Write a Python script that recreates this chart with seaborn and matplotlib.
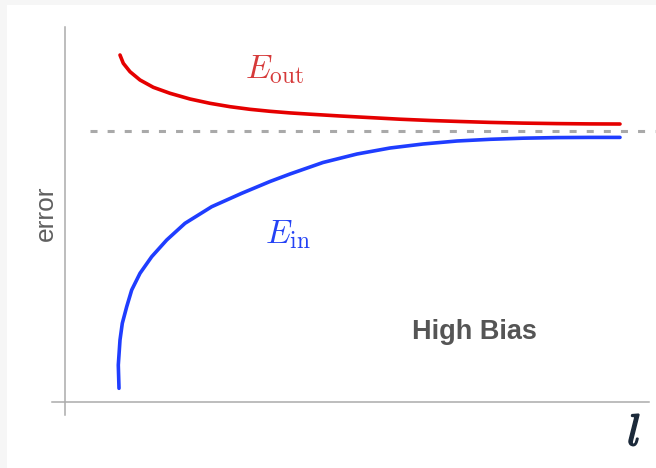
import numpy as np
import pandas as pd
import matplotlib
matplotlib.use("Agg")
import matplotlib.pyplot as plt
from matplotlib.patches import Rectangle
import matplotlib.patheffects as pe
import seaborn as sns

# ---- data ----
size_in = [1.080, 1.066, 1.066, 1.100, 1.146, 1.234, 1.334, 1.500, 1.734, 2.034, 2.400,
           2.934, 3.534, 4.100, 4.500, 5.160, 5.840, 6.500, 7.160, 7.840, 8.500,
           9.160, 9.840, 10.500, 11.100]
error_in = [0.365, 0.765, 1.208, 1.653, 2.099, 2.541, 2.987, 3.432, 3.875, 4.320, 4.765,
            5.208, 5.565, 5.880, 6.080, 6.387, 6.613, 6.773, 6.880, 6.960, 7.005,
            7.035, 7.051, 7.056, 7.056]

size_out = [1.100, 1.166, 1.300, 1.500, 1.766, 2.100, 2.500, 2.900, 3.300, 3.700, 4.100,
            4.500, 4.900, 5.500, 6.100, 6.700, 7.300, 7.900, 8.500, 9.160, 9.840,
            10.500, 11.100]
error_out = [9.253, 9.032, 8.808, 8.587, 8.392, 8.232, 8.080, 7.965, 7.875, 7.805, 7.752,
             7.709, 7.675, 7.627, 7.584, 7.541, 7.507, 7.480, 7.456, 7.437, 7.424,
             7.416, 7.413]

bias_x = [0.50, 11.80]
bias_level = [7.227, 7.227]

label_in = r"$E_{\rm in}$"
label_out = r"$E_{\rm out}$"
text_bias = "High Bias"
ylabel = "error"
xlabel = r"$l$"

# ---- style ----
sns.set_style("white")
plt.rcParams["font.family"] = ["Liberation Sans", "DejaVu Sans"]
plt.rcParams["mathtext.fontset"] = "cm"

W, H = 656, 468
fig = plt.figure(figsize=(W / 100, H / 100), dpi=100)
fig.patch.set_facecolor("#f6f6f6")
fig.patches.append(Rectangle((7 / W, 0), 1, 1 - 5 / H, transform=fig.transFigure,
                             facecolor="white", edgecolor="none", zorder=-10))

ax = fig.add_axes([52 / W, 53 / H, 597 / W, 388 / H])
ax.set_facecolor("none")

red = "#e50000"
blue = "#1f3dff"

sns.lineplot(x=size_out, y=error_out, sort=False, color=red, lw=2.6, ax=ax)
sns.lineplot(x=size_in, y=error_in, sort=False, color=blue, lw=2.6, ax=ax)
for ln in ax.lines:
    ln.set_solid_joinstyle("round")
ax.plot(bias_x, bias_level, color="#a9a9a9", lw=2.2, dashes=(2.3, 3.3), clip_on=False)

ax.set_xlim(-0.26, 11.68)
ax.set_ylim(-0.3467, 10.0)

for s in ["top", "right"]:
    ax.spines[s].set_visible(False)
for s in ["left", "bottom"]:
    ax.spines[s].set_position(("data", 0))
    ax.spines[s].set_color("#ababab")
    ax.spines[s].set_linewidth(1.1)
ax.set_xticks([])
ax.set_yticks([])
ax.set_xlabel("")
ax.set_ylabel("")

c_out = "#d63a3a"
c_in = "#2442f5"
c_l = "#1c2a3a"
ax.text(4.19, 8.85, label_out, color=c_out, fontsize=24, ha="center", va="center")
ax.text(4.45, 4.45, label_in, color=c_in, fontsize=24, ha="center", va="center")
ax.text(8.18, 1.87, text_bias, color="#555555", fontsize=19.5, fontweight="bold",
        ha="center", va="center")
ax.text(11.38, -0.85, xlabel, color=c_l, fontsize=32, ha="center", va="center",
        clip_on=False, path_effects=[pe.withStroke(linewidth=1.2, foreground=c_l)])
fig.text(46 / W, 1 - 213 / H, ylabel, rotation=90, color="#5f5f5f", fontsize=19,
         ha="center", va="center")

fig.savefig("out.png", dpi=100)
